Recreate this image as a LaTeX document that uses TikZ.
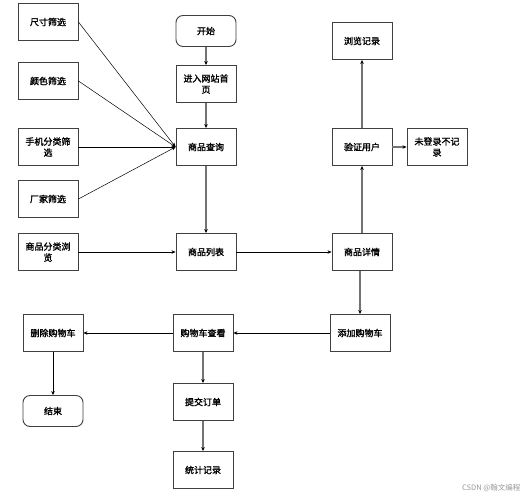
\documentclass[tikz,border=0pt]{standalone}
\usepackage{fontspec}
\newfontfamily\cjk{Noto Sans CJK SC}
\newfontfamily\cjkb{Noto Sans CJK SC}[FakeBold=1.6]
\usetikzlibrary{arrows.meta}
\begin{document}
\begin{tikzpicture}[x=1pt,y=-1pt,
  box/.style={draw=black!75,line width=0.9pt,fill=white,minimum width=60pt,minimum height=37pt,inner sep=1pt,align=center,font=\cjkb\fontsize{9}{11}\selectfont},
  term/.style={box,rounded corners=7pt,minimum height=31pt},
  garr/.style={draw=black!55,line width=1.1pt,-{Stealth[length=4pt,width=3.5pt,black]}},
  barr/.style={draw=black,line width=0.5pt,-{Stealth[length=4pt,width=3.5pt]}}]
\useasboundingbox[fill=white] (0,0) rectangle (528,499);
% left column
\node[box] (size) at (48,22) {尺寸筛选};
\node[box] (color) at (48,81) {颜色筛选};
\node[box] (phone) at (48,147) {手机分类筛\\选};
\node[box] (maker) at (48,199) {厂家筛选};
\node[box] (cat) at (48,252) {商品分类浏\\览};
% center column
\node[term] (start) at (206,31) {开始};
\node[box] (home) at (206,84) {进入网站首\\页};
\node[box] (query) at (206,147) {商品查询};
\node[box] (list) at (206,252) {商品列表};
% right column
\node[box] (rec) at (362,41) {浏览记录};
\node[box] (verify) at (362,147) {验证用户};
\node[box] (nolog) at (437,147) {未登录不记\\录};
\node[box] (detail) at (362,252) {商品详情};
% bottom
\node[box] (add) at (360,333) {添加购物车};
\node[box] (view) at (203,333) {购物车查看};
\node[box] (del) at (53,333) {删除购物车};
\node[term] (end) at (53,411) {结束};
\node[box] (submit) at (203,402) {提交订单};
\node[box] (stats) at (203,470) {统计记录};
% watermark
\node[text=black!40,font=\cjk\fontsize{7.5}{9}\selectfont,anchor=east] (wm) at (524,488) {CSDN @翰文编程};
% connectors
\draw[barr] (size.east) -- (query.west);
\draw[barr] (color.east) -- (query.west);
\draw[barr] (phone.east) -- (query.west);
\draw[barr] (maker.east) -- (query.west);
\draw[barr] (cat.east) -- (list.west);
\draw[garr] (start) -- (home);
\draw[garr] (home) -- (query);
\draw[garr] (query) -- (list);
\draw[barr] (list) -- (detail);
\draw[garr] (detail) -- (verify);
\draw[garr] (verify) -- (rec);
\draw[garr] (verify) -- (nolog);
\draw[garr] (add.north |- detail.south) -- (add.north);
\draw[barr] (add) -- (view);
\draw[barr] (view) -- (del);
\draw[barr] (del) -- (end);
\draw[garr] (view) -- (submit);
\draw[garr] (submit) -- (stats);
\end{tikzpicture}
\end{document}
